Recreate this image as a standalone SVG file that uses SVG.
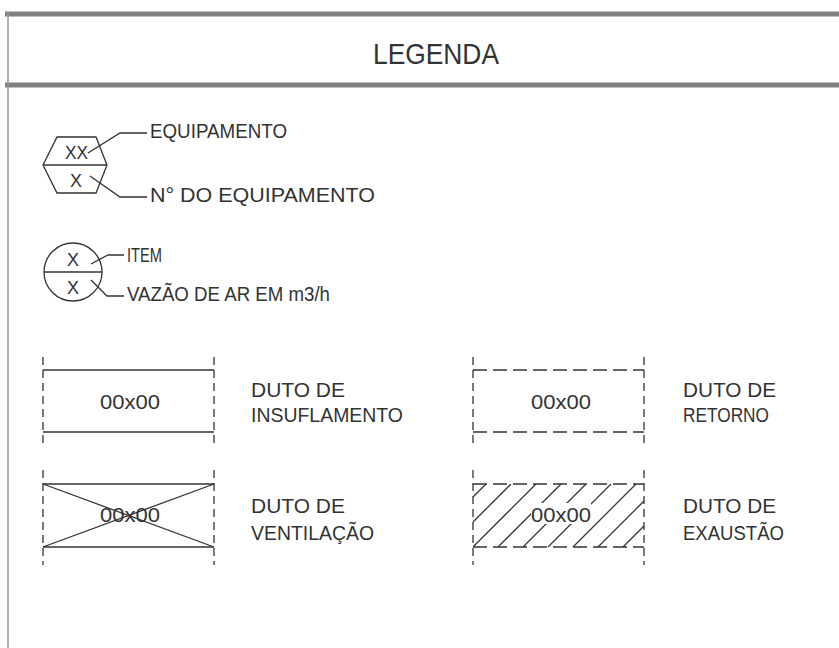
<svg xmlns="http://www.w3.org/2000/svg" width="839" height="648" viewBox="0 0 839 648">
<defs>
<style>
.t{font-family:"Liberation Sans",Arial,sans-serif;fill:#333;font-size:21px}
.ln{stroke:#333;stroke-width:1.3;fill:none}
.dv{stroke:#333;stroke-width:1.3;fill:none;stroke-dasharray:8 5}
.dh{stroke:#333;stroke-width:1.3;fill:none;stroke-dasharray:14 6}
.frame{stroke:#808080;stroke-width:5;fill:none}
</style>
<clipPath id="hclip"><rect x="473" y="484" width="171" height="63"/></clipPath>
<mask id="hmask"><rect x="473" y="484" width="171" height="63" fill="#fff"/><rect x="531" y="503" width="60" height="21" fill="#000"/></mask>
</defs>
<rect width="839" height="648" fill="#fff"/>
<g id="frame">
<line class="frame" x1="5" y1="14" x2="839" y2="14"/>
<line class="frame" x1="5" y1="85" x2="839" y2="85"/>
<line x1="8" y1="12" x2="8" y2="648" stroke="#999" stroke-width="1.5"/>
<text class="t" x="373" y="64" style="font-size:30px" textLength="126" lengthAdjust="spacingAndGlyphs">LEGENDA</text>
</g>
<g id="equipamento">
<polygon class="ln" points="43,165 57,137 96,137 107,165 96,193 57,193"/>
<line class="ln" x1="43" y1="165" x2="107" y2="165"/>
<text class="t" x="65" y="159" style="font-size:18px" textLength="23" lengthAdjust="spacingAndGlyphs">XX</text>
<text class="t" x="70" y="187" style="font-size:18px" textLength="12" lengthAdjust="spacingAndGlyphs">X</text>
</g>
<g id="item">
<circle class="ln" cx="73" cy="272" r="29"/>
<line class="ln" x1="44" y1="272" x2="102" y2="272"/>
<text class="t" x="67" y="266" style="font-size:19px" textLength="12" lengthAdjust="spacingAndGlyphs">X</text>
<text class="t" x="67" y="294" style="font-size:19px" textLength="12" lengthAdjust="spacingAndGlyphs">X</text>
</g>
<g id="labels">
<text class="t" x="150" y="138" textLength="137" lengthAdjust="spacingAndGlyphs">EQUIPAMENTO</text>
<text class="t" x="150" y="202" textLength="225" lengthAdjust="spacingAndGlyphs">N° DO EQUIPAMENTO</text>
<text class="t" x="127" y="262" textLength="35" lengthAdjust="spacingAndGlyphs">ITEM</text>
<text class="t" x="127" y="301" textLength="203" lengthAdjust="spacingAndGlyphs">VAZÃO DE AR EM m3/h</text>
</g>
<g id="connectors">
<polyline class="ln" points="88,153 120,133 147,133"/>
<polyline class="ln" points="90,176 120,197 147,197"/>
<polyline class="ln" points="91,264 108,255 124,255"/>
<polyline class="ln" points="91,280 107,296 124,296"/>
</g>
<g id="duto-insuflamento">
<line class="dv" x1="43" y1="357" x2="43" y2="445"/>
<line class="dv" x1="214" y1="357" x2="214" y2="445"/>
<line class="ln" x1="43" y1="370" x2="214" y2="370"/>
<line class="ln" x1="43" y1="432" x2="214" y2="432"/>
<text class="t" x="100" y="409" style="font-size:20px" textLength="60" lengthAdjust="spacingAndGlyphs">00x00</text>
<text class="t" x="251" y="397" textLength="94" lengthAdjust="spacingAndGlyphs">DUTO DE</text>
<text class="t" x="251" y="422" textLength="152" lengthAdjust="spacingAndGlyphs">INSUFLAMENTO</text>
</g>
<g id="duto-retorno">
<line class="dv" x1="473" y1="357" x2="473" y2="445"/>
<line class="dv" x1="644" y1="357" x2="644" y2="445"/>
<line class="dh" x1="473" y1="370" x2="644" y2="370"/>
<line class="dh" x1="473" y1="432" x2="644" y2="432"/>
<text class="t" x="531" y="409" style="font-size:20px" textLength="60" lengthAdjust="spacingAndGlyphs">00x00</text>
<text class="t" x="683" y="397" textLength="93" lengthAdjust="spacingAndGlyphs">DUTO DE</text>
<text class="t" x="683" y="422" textLength="86" lengthAdjust="spacingAndGlyphs">RETORNO</text>
</g>
<g id="duto-ventilacao">
<line class="dv" x1="43" y1="470" x2="43" y2="565"/>
<line class="dv" x1="214" y1="470" x2="214" y2="565"/>
<line class="ln" x1="43" y1="484" x2="214" y2="484"/>
<line class="ln" x1="43" y1="547" x2="214" y2="547"/>
<line class="ln" x1="43" y1="484" x2="214" y2="547"/>
<line class="ln" x1="43" y1="547" x2="214" y2="484"/>
<text class="t" x="100" y="522" style="font-size:20px" textLength="60" lengthAdjust="spacingAndGlyphs">00x00</text>
<text class="t" x="251" y="513" textLength="94" lengthAdjust="spacingAndGlyphs">DUTO DE</text>
<text class="t" x="251" y="540" textLength="123" lengthAdjust="spacingAndGlyphs">VENTILAÇÃO</text>
</g>
<g id="duto-exaustao">
<line class="dv" x1="473" y1="470" x2="473" y2="565"/>
<line class="dv" x1="644" y1="470" x2="644" y2="565"/>
<line class="dh" x1="473" y1="484" x2="644" y2="484"/>
<line class="dh" x1="473" y1="547" x2="644" y2="547"/>
<g clip-path="url(#hclip)" mask="url(#hmask)">
<path class="ln" d="M448,547 l63,-63 M473,547 l63,-63 M498,547 l63,-63 M523,547 l63,-63 M548,547 l63,-63 M573,547 l63,-63 M598,547 l63,-63 M623,547 l63,-63 M473,522 l38,-38 M473,497 l13,-13"/>
</g>
<text class="t" x="531" y="522" style="font-size:20px" textLength="60" lengthAdjust="spacingAndGlyphs">00x00</text>
<text class="t" x="683" y="513" textLength="93" lengthAdjust="spacingAndGlyphs">DUTO DE</text>
<text class="t" x="683" y="540" textLength="101" lengthAdjust="spacingAndGlyphs">EXAUSTÃO</text>
</g>
</svg>
